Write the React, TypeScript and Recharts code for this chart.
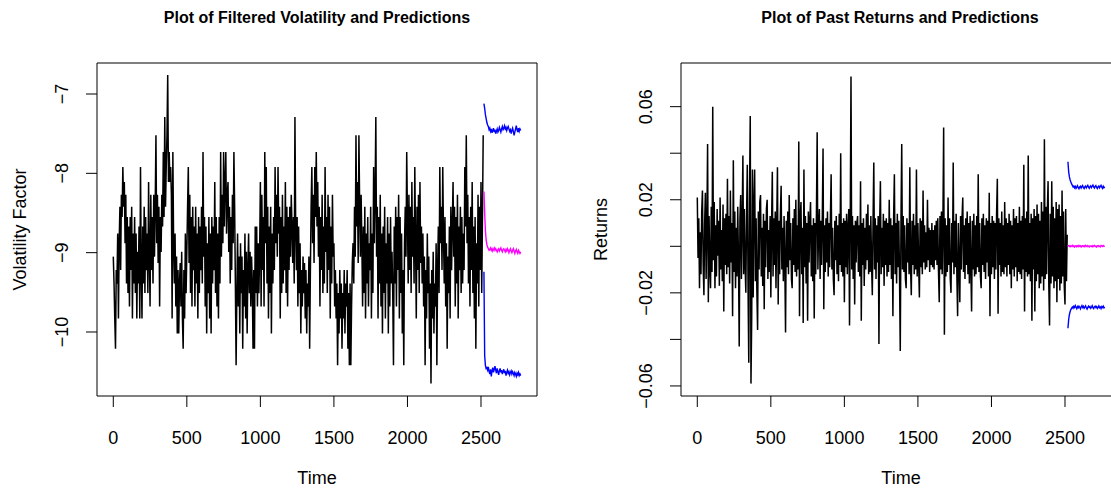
import { LineChart, Line, XAxis, YAxis, ReferenceArea } from 'recharts';

// sampling grid of the plotted series (time index)
const histStart = 0;
const histStep = 5;
const predStart = 2520;
const predStep = 5;

const timeTicks = [0, 500, 1000, 1500, 2000, 2500];
const volTicks = [-10, -9, -8, -7];
const retTicks = [-0.06, -0.04, -0.02, 0, 0.02, 0.04, 0.06];
const retLabelled = [-0.06, -0.02, 0.02, 0.06];

// filtered volatility, t = 0..2515
const volHist = [
  -9.05, -9.39, -9.83, -10.21, -9.22, -9.39, -8.76, -9.83, -8.88, -8.42, -9.22, -8.27, -8.55, -7.92, -8.42, -8.11, -8.88, -8.27, -9.39, -8.55,
  -9.51, -8.67, -9.68, -8.55, -9.22, -8.42, -9.83, -8.76, -9.39, -8.55, -9.51, -8.76, -9.83, -8.99, -9.39, -8.67, -9.83, -7.92, -9.22, -9.83,
  -8.67, -9.39, -8.42, -9.51, -8.55, -9.22, -8.76, -9.51, -8.11, -9.05, -9.68, -8.27, -9.22, -8.55, -9.39, -8.27, -9.05, -8.42, -7.52, -8.88,
  -8.27, -9.13, -8.42, -9.68, -8.55, -8.99, -8.27, -8.67, -7.73, -8.55, -7.29, -8.42, -7.92, -7.52, -6.76, -8.11, -7.73, -8.11, -7.92, -8.27,
  -9.83, -7.73, -8.88, -9.39, -8.76, -9.68, -9.05, -10.02, -9.22, -10.02, -9.39, -9.13, -9.68, -8.99, -9.83, -10.21, -9.22, -9.83, -8.76, -9.51,
  -8.99, -8.42, -7.92, -9.13, -8.27, -9.51, -8.55, -9.68, -8.42, -9.22, -8.67, -9.68, -8.42, -9.39, -8.76, -9.83, -8.55, -9.51, -8.67, -9.22,
  -8.42, -9.39, -7.73, -9.05, -8.55, -9.68, -8.67, -10.02, -8.88, -9.51, -8.55, -9.83, -8.76, -10.02, -8.55, -9.39, -8.67, -9.22, -8.11, -9.51,
  -8.55, -9.68, -8.76, -9.83, -8.55, -9.39, -7.73, -9.05, -8.27, -8.88, -7.73, -8.67, -8.11, -7.73, -8.76, -8.27, -8.11, -8.99, -8.42, -9.39,
  -8.55, -9.22, -8.27, -8.88, -7.73, -8.42, -9.39, -10.42, -9.51, -8.76, -9.68, -9.05, -10.02, -8.88, -9.51, -9.05, -10.21, -9.22, -9.68, -8.76,
  -9.83, -8.99, -10.02, -9.22, -8.76, -9.51, -8.99, -9.68, -9.05, -9.39, -10.21, -9.22, -10.21, -8.67, -9.51, -8.67, -9.68, -8.88, -9.51, -8.99,
  -8.11, -9.68, -8.27, -9.22, -8.55, -9.68, -7.73, -8.88, -7.92, -9.39, -8.42, -9.83, -8.67, -9.51, -8.42, -10.02, -8.76, -9.39, -8.55, -9.22,
  -7.92, -8.88, -8.27, -9.05, -7.92, -8.76, -8.42, -9.83, -8.55, -9.51, -8.27, -9.39, -8.67, -9.22, -8.11, -9.51, -8.42, -9.68, -8.55, -9.22,
  -8.42, -9.05, -8.27, -8.67, -9.13, -8.55, -9.39, -7.29, -8.67, -9.22, -8.55, -9.68, -8.67, -9.51, -8.88, -10.02, -9.22, -9.68, -9.05, -9.51,
  -9.13, -9.83, -9.22, -10.02, -9.39, -9.68, -9.05, -10.21, -9.22, -8.42, -7.92, -8.88, -8.27, -9.13, -7.92, -8.55, -7.73, -8.67, -8.11, -9.05,
  -8.42, -9.68, -8.55, -9.22, -8.27, -9.51, -8.67, -9.39, -7.92, -8.99, -8.55, -9.51, -8.27, -9.22, -8.42, -9.83, -8.67, -9.39, -8.27, -9.05,
  -8.88, -9.68, -9.22, -9.83, -9.39, -10.42, -9.51, -10.02, -9.22, -9.83, -9.39, -10.21, -9.51, -9.83, -9.22, -10.02, -9.39, -9.68, -9.22, -10.21,
  -9.51, -10.42, -9.39, -10.42, -9.68, -9.13, -8.88, -9.39, -8.42, -9.05, -7.52, -8.67, -8.11, -9.13, -7.52, -8.42, -9.05, -8.27, -8.88, -9.68,
  -8.67, -9.51, -8.42, -9.83, -8.76, -9.39, -8.55, -9.68, -8.88, -9.22, -8.42, -9.83, -8.76, -9.51, -7.92, -8.88, -8.27, -7.29, -9.05, -8.42,
  -9.83, -8.55, -9.39, -8.27, -9.68, -8.76, -10.02, -8.67, -9.51, -8.42, -9.83, -8.88, -9.39, -8.55, -10.02, -8.76, -9.68, -8.55, -9.39, -8.99,
  -9.51, -10.42, -8.67, -9.39, -8.42, -9.68, -8.55, -9.22, -8.27, -9.83, -8.55, -9.51, -8.76, -10.02, -9.22, -10.42, -8.88, -8.42, -9.05, -7.73,
  -8.55, -9.39, -8.27, -9.22, -8.42, -9.51, -8.11, -9.05, -8.55, -9.39, -7.92, -8.88, -9.83, -8.42, -9.22, -8.27, -9.51, -8.11, -9.13, -8.67,
  -9.39, -8.76, -9.68, -9.05, -10.42, -9.22, -9.83, -8.76, -9.51, -9.05, -10.21, -9.39, -10.65, -9.22, -9.83, -8.99, -10.02, -9.39, -9.68, -8.88,
  -10.42, -9.22, -8.67, -9.51, -7.92, -8.88, -8.42, -9.22, -7.92, -8.76, -9.39, -8.55, -9.68, -8.88, -10.21, -9.05, -9.51, -8.67, -9.83, -8.42,
  -9.22, -8.67, -8.11, -9.05, -8.42, -9.68, -8.55, -9.39, -8.27, -9.83, -8.67, -9.22, -8.42, -9.51, -8.55, -9.39, -8.76, -9.22, -7.92, -8.67,
  -7.52, -8.88, -8.27, -9.39, -8.55, -9.68, -8.42, -9.22, -8.11, -9.51, -8.67, -9.83, -8.55, -10.21, -8.88, -9.39, -8.27, -9.68, -8.42, -9.22,
  -8.11, -9.51, -8.55, -7.52,
];

// volatility predictions, t = 2520..2770
const volUpper = [
  -7.12, -7.18, -7.26, -7.31, -7.36, -7.39, -7.41, -7.45, -7.43, -7.47, -7.44, -7.49, -7.46, -7.43, -7.48, -7.45, -7.5,
  -7.47, -7.44, -7.48, -7.46, -7.42, -7.45, -7.48, -7.44, -7.41, -7.45, -7.43, -7.4, -7.44, -7.42, -7.46, -7.43, -7.41,
  -7.44, -7.47, -7.45, -7.5, -7.46, -7.43, -7.47, -7.52, -7.48, -7.44, -7.4, -7.45, -7.48, -7.43, -7.47, -7.44, -7.46,
];
const volMid = [
  -8.23, -8.5, -8.72, -8.84, -8.9, -8.93, -8.95, -8.97, -8.96, -8.94, -8.97, -8.95, -8.98, -8.96, -8.94, -8.97, -8.95,
  -8.97, -8.99, -8.96, -8.95, -8.98, -8.96, -8.94, -8.97, -8.99, -8.96, -8.95, -8.97, -8.99, -8.96, -8.98, -8.95, -8.97,
  -9.0, -8.97, -8.95, -8.98, -9.0, -8.97, -8.95, -8.98, -9.01, -8.98, -8.96, -8.99, -9.01, -8.97, -8.99, -9.01, -8.99,
];
const volLower = [
  -9.24, -10.3, -10.42, -10.46, -10.45, -10.48, -10.44, -10.5, -10.53, -10.47, -10.56, -10.49, -10.45, -10.51, -10.47, -10.43, -10.48,
  -10.52, -10.46, -10.5, -10.54, -10.49, -10.46, -10.51, -10.48, -10.53, -10.5, -10.47, -10.52, -10.49, -10.55, -10.51, -10.48, -10.52,
  -10.5, -10.54, -10.51, -10.49, -10.53, -10.5, -10.52, -10.55, -10.51, -10.53, -10.56, -10.52, -10.54, -10.51, -10.55, -10.53, -10.55,
];

// past returns, t = 0..2515
const retHist = [
  0.021, -0.005, 0.012, -0.018, 0.006, -0.012, 0.015, 0.024, -0.008, -0.021, 0.01, 0.023, -0.014, 0.008, 0.044, -0.024, 0.013, -0.009, -0.018, 0.017,
  -0.011, 0.06, -0.006, 0.019, -0.018, 0.009, -0.013, 0.016, -0.004, 0.011, -0.017, 0.021, -0.01, 0.007, -0.015, 0.018, -0.028, 0.012, -0.008, 0.014,
  -0.012, 0.029, -0.009, 0.013, -0.016, 0.024, -0.007, 0.01, -0.03, 0.037, -0.011, 0.015, -0.018, 0.008, -0.013, 0.017, -0.006, -0.043, 0.012, 0.022,
  -0.014, 0.01, 0.039, -0.012, 0.016, -0.008, -0.02, 0.013, 0.035, -0.017, -0.05, 0.022, 0.056, -0.059, -0.03, 0.033, -0.022, 0.018, 0.033, -0.015,
  0.012, -0.019, -0.036, 0.015, -0.01, 0.019, 0.022, -0.013, 0.008, -0.017, 0.014, -0.027, 0.011, -0.009, 0.016, 0.02, -0.014, 0.007, -0.011, 0.013,
  -0.022, 0.009, 0.032, -0.013, 0.012, -0.008, 0.015, -0.018, 0.01, 0.034, -0.025, 0.011, -0.012, 0.014, 0.026, -0.01, 0.008, -0.015, 0.013, -0.007,
  -0.037, 0.011, -0.009, 0.015, -0.012, 0.022, -0.006, 0.01, -0.014, -0.018, 0.012, -0.008, 0.016, -0.011, 0.02, -0.013, 0.009, -0.01, 0.045, -0.03,
  0.012, 0.019, -0.012, 0.008, -0.033, 0.033, -0.009, 0.013, -0.016, 0.01, -0.032, 0.015, -0.007, 0.011, 0.019, -0.013, 0.009, -0.015, 0.012, -0.031,
  0.01, -0.012, 0.014, 0.049, -0.01, 0.008, 0.016, -0.014, 0.011, -0.008, 0.013, 0.042, -0.027, 0.009, -0.011, 0.012, -0.007, 0.015, -0.013, 0.01,
  -0.009, 0.012, 0.031, -0.01, 0.008, -0.014, -0.021, 0.011, -0.006, 0.013, -0.012, 0.009, -0.015, 0.014, -0.008, 0.04, -0.011, 0.01, -0.013, 0.012,
  -0.024, 0.011, -0.009, 0.014, -0.012, 0.008, 0.016, -0.034, 0.012, 0.073, -0.01, 0.013, -0.014, 0.009, -0.025, 0.011, -0.007, 0.01, 0.013, -0.011,
  0.009, -0.013, 0.028, -0.032, 0.01, -0.008, 0.012, -0.017, 0.008, -0.01, 0.014, -0.006, 0.018, -0.012, 0.009, -0.011, 0.013, -0.008, -0.021, 0.011,
  0.036, -0.01, 0.012, -0.014, 0.009, -0.007, 0.013, -0.042, 0.01, 0.028, -0.012, 0.008, -0.009, 0.014, -0.017, 0.011, -0.008, 0.012, -0.013, 0.01,
  -0.011, 0.02, -0.008, 0.012, -0.014, 0.009, -0.03, 0.013, 0.031, -0.012, 0.01, -0.016, 0.014, -0.009, 0.011, -0.013, -0.045, 0.012, 0.044, -0.01,
  0.013, -0.011, 0.009, -0.014, -0.018, 0.012, -0.007, 0.01, -0.012, 0.034, -0.009, -0.021, 0.011, -0.008, 0.014, -0.012, 0.009, -0.01, 0.033, -0.013,
  0.01, -0.008, -0.022, 0.012, -0.009, 0.011, -0.012, 0.024, -0.007, 0.009, -0.01, 0.006, -0.009, 0.02, -0.006, 0.008, -0.011, 0.007, -0.008, 0.01,
  -0.009, 0.007, -0.01, 0.009, -0.006, 0.011, -0.008, 0.012, -0.011, -0.024, 0.013, -0.01, 0.015, -0.012, 0.01, 0.051, -0.038, 0.012, -0.013, 0.009,
  -0.011, 0.021, -0.008, 0.012, -0.014, -0.02, 0.01, -0.007, 0.036, -0.012, 0.011, -0.009, 0.014, -0.013, -0.03, 0.01, -0.008, -0.024, 0.013, -0.01,
  0.012, 0.021, -0.011, 0.009, -0.014, 0.012, -0.008, 0.015, -0.012, 0.01, -0.016, 0.013, -0.009, -0.028, 0.011, -0.01, 0.014, -0.013, 0.009, -0.012,
  0.013, -0.009, 0.031, -0.011, 0.01, -0.013, -0.018, 0.012, -0.008, 0.014, -0.011, 0.009, -0.014, 0.012, -0.007, 0.011, -0.013, 0.023, -0.03, 0.01,
  -0.012, 0.013, -0.009, 0.011, -0.014, 0.01, -0.01, 0.014, 0.029, -0.029, 0.012, -0.008, 0.01, -0.013, 0.015, -0.011, 0.009, -0.012, 0.019, -0.009,
  0.012, -0.013, 0.01, -0.008, 0.014, -0.012, 0.011, -0.018, 0.009, -0.01, 0.016, -0.013, 0.012, -0.009, 0.013, -0.015, 0.01, -0.011, 0.017, -0.012,
  0.011, -0.014, 0.013, -0.01, 0.035, -0.028, 0.012, -0.011, 0.015, -0.013, 0.039, -0.012, 0.01, -0.015, 0.014, -0.032, 0.012, -0.01, 0.016, -0.028,
  0.013, -0.015, 0.018, -0.012, 0.014, -0.018, 0.011, -0.016, 0.019, -0.013, 0.015, -0.019, 0.046, -0.014, 0.017, -0.012, 0.015, 0.028, -0.017, -0.034,
  0.014, -0.016, 0.028, -0.013, 0.017, -0.018, 0.012, -0.015, 0.019, -0.024, 0.016, -0.014, 0.018, -0.019, 0.013, -0.016, 0.024, -0.013, 0.015, -0.017,
  -0.025, 0.016, -0.015, 0.005,
];

// return predictions, t = 2520..2770
const retUpper = [
  0.0363, 0.032, 0.0298, 0.0285, 0.0276, 0.0268, 0.0262, 0.0255, 0.0259, 0.0251, 0.0257, 0.0249, 0.0254, 0.026, 0.0252, 0.0247, 0.0255,
  0.0258, 0.025, 0.0256, 0.0261, 0.0253, 0.0248, 0.0255, 0.0259, 0.0251, 0.0257, 0.0262, 0.0254, 0.0249, 0.0256, 0.026, 0.0252, 0.0258,
  0.0263, 0.0255, 0.025, 0.0257, 0.0261, 0.0253, 0.0248, 0.0256, 0.0259, 0.0251, 0.0257, 0.0262, 0.0254, 0.0249, 0.0258, 0.0252, 0.0256,
];
const retMid = [
  0.0005, 0.0002, -0.0001, 0.0003, -0.0002, 0.0001, 0.0004, -0.0001, 0.0002, -0.0003, 0.0001, 0.0003, -0.0002, 0.0002, -0.0001, 0.0004, 0.0,
  0.0002, -0.0003, 0.0001, 0.0003, -0.0001, 0.0002, -0.0002, 0.0004, 0.0001, -0.0002, 0.0003, 0.0, -0.0003, 0.0002, 0.0001, -0.0001, 0.0003,
  -0.0002, 0.0002, 0.0004, -0.0001, 0.0001, -0.0003, 0.0002, 0.0003, -0.0001, 0.0001, -0.0002, 0.0004, 0.0002, -0.0001, 0.0003, 0.0, 0.0002,
];
const retLower = [
  -0.0352, -0.0315, -0.0293, -0.028, -0.0272, -0.0266, -0.0261, -0.0266, -0.0258, -0.0263, -0.0255, -0.0262, -0.0268, -0.0259, -0.0264, -0.0257, -0.0262,
  -0.0269, -0.026, -0.0255, -0.0263, -0.0258, -0.0266, -0.0261, -0.0256, -0.0264, -0.027, -0.0262, -0.0257, -0.0263, -0.0259, -0.0266, -0.0261, -0.0255,
  -0.0264, -0.0268, -0.026, -0.0257, -0.0263, -0.0259, -0.0267, -0.0262, -0.0256, -0.0264, -0.0261, -0.0268, -0.0259, -0.0263, -0.0257, -0.0265, -0.0261,
];

const font = '"Liberation Sans", Arial, Helvetica, sans-serif';
const xDomain: [number, number] = [-110.8, 2880.8];

const rows = (vals: number[], start: number, step: number) => vals.map((v, i) => ({ t: start + i * step, v }));

const minus = (s: string) => s.replace('-', '\u2212');

function RotTick(props: any) {
  const { x, y, payload, fmt } = props;
  const label = fmt(payload.value);
  if (!label) return null;
  return (
    <text x={x} y={y} transform={`rotate(-90 ${x} ${y})`} textAnchor="middle" fontSize={18} fontFamily={font} fill="#000">
      {label}
    </text>
  );
}

interface PanelProps {
  hist: number[]; upper: number[]; mid: number[]; lower: number[];
  yDomain: [number, number]; yTicks: number[]; fmt: (v: number) => string;
}

function Panel({ hist, upper, mid, lower, yDomain, yTicks, fmt }: PanelProps) {
  return (
    <LineChart width={560} height={488} margin={{ top: 63, right: 23, bottom: 32, left: 37 }}>
      <XAxis
        type="number" dataKey="t" domain={xDomain} allowDataOverflow ticks={timeTicks} interval={0}
        axisLine={false} tickLine={{ stroke: '#000' }} tickSize={11} tickMargin={24} height={60}
        tick={{ fill: '#000', fontSize: 18, fontFamily: font }}
      />
      <YAxis
        type="number" domain={yDomain} allowDataOverflow ticks={yTicks} interval={0} width={60}
        axisLine={false} tickLine={{ stroke: '#000' }} tickSize={11} tickMargin={18}
        tick={(p: any) => <RotTick {...p} fmt={fmt} />}
      />
      <ReferenceArea x1={xDomain[0]} x2={xDomain[1]} y1={yDomain[0]} y2={yDomain[1]} fill="none" stroke="#000" strokeWidth={1} fillOpacity={0} />
      <Line data={rows(hist, histStart, histStep)} dataKey="v" type="linear" stroke="#000" strokeWidth={1.5} dot={false} isAnimationActive={false} />
      <Line data={rows(upper, predStart, predStep)} dataKey="v" type="linear" stroke="#0000FF" strokeWidth={1.4} dot={false} isAnimationActive={false} />
      <Line data={rows(mid, predStart, predStep)} dataKey="v" type="linear" stroke="#FF00FF" strokeWidth={1.4} dot={false} isAnimationActive={false} />
      <Line data={rows(lower, predStart, predStep)} dataKey="v" type="linear" stroke="#0000FF" strokeWidth={1.4} dot={false} isAnimationActive={false} />
    </LineChart>
  );
}

export default function App() {
  const volFmt = (v: number) => minus(String(v));
  const retFmt = (v: number) => (retLabelled.some(r => Math.abs(r - v) < 1e-9) ? minus(v.toFixed(2)) : '');
  return (
    <div style={{ position: 'absolute', left: 0, top: 0, width: 1111, height: 488, overflow: 'hidden', background: '#fff' }}>
      <div style={{ position: 'absolute', left: 0, top: 0 }}>
        <Panel hist={volHist} upper={volUpper} mid={volMid} lower={volLower} yDomain={[-10.807, -6.609]} yTicks={volTicks} fmt={volFmt} />
      </div>
      <div style={{ position: 'absolute', left: 584, top: 0 }}>
        <Panel hist={retHist} upper={retUpper} mid={retMid} lower={retLower} yDomain={[-0.06432, 0.07876]} yTicks={retTicks} fmt={retFmt} />
      </div>
      <svg width={1111} height={488} style={{ position: 'absolute', left: 0, top: 0, pointerEvents: 'none' }} fontFamily={font}>
        <text x={317} y={23} textAnchor="middle" fontSize={16} fontWeight="bold">Plot of Filtered Volatility and Predictions</text>
        <text x={900} y={23} textAnchor="middle" fontSize={16} fontWeight="bold">Plot of Past Returns and Predictions</text>
        <text x={317} y={484} textAnchor="middle" fontSize={18}>Time</text>
        <text x={901} y={484} textAnchor="middle" fontSize={18}>Time</text>
        <text x={26} y={229.5} transform="rotate(-90 26 229.5)" textAnchor="middle" fontSize={18}>Volatility Factor</text>
        <text x={606.5} y={229.5} transform="rotate(-90 606.5 229.5)" textAnchor="middle" fontSize={18}>Returns</text>
      </svg>
    </div>
  );
}
